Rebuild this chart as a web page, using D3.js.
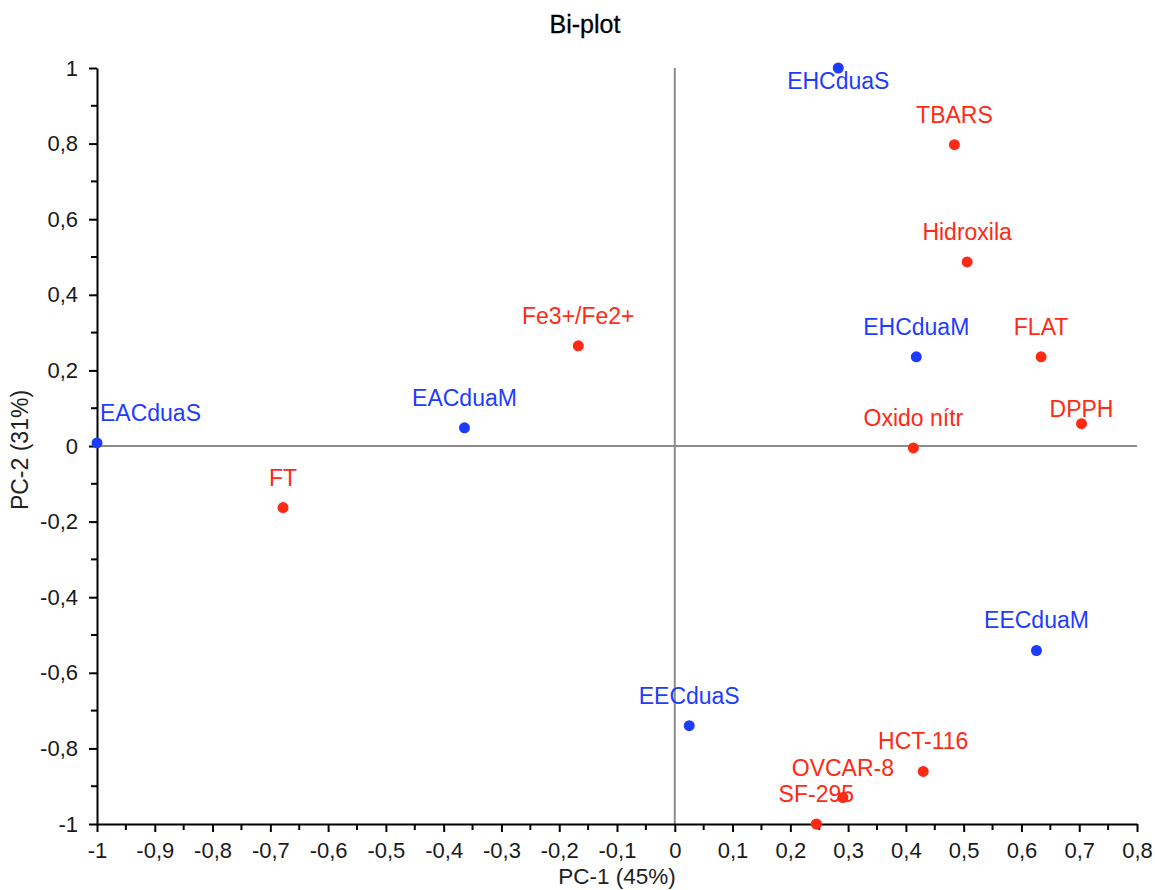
<!DOCTYPE html>
<html>
<head>
<meta charset="utf-8">
<script src="https://cdn.jsdelivr.net/npm/d3@7"></script>
<style>
  html, body { margin: 0; padding: 0; background: #fff; }
  text { font-family: "Liberation Sans", Arial, sans-serif; }
</style>
</head>
<body>
<svg id="chart" width="1155" height="890"></svg>
<script>
// ---- data ----
const names = ["EHCduaS","TBARS","Hidroxila","EHCduaM","FLAT","DPPH","Oxido nítr","Fe3+/Fe2+","EACduaM","EACduaS","FT","EECduaM","EECduaS","HCT-116","OVCAR-8","SF-295"];
const pc1 =   [0.283, 0.484, 0.506, 0.418, 0.634, 0.704, 0.413, -0.167, -0.364, -1.0, -0.678, 0.626, 0.025, 0.430, 0.291, 0.245];
const pc2 =   [1.0,   0.797, 0.487, 0.236, 0.236, 0.059, -0.005, 0.265, 0.048, 0.008, -0.163, -0.541, -0.740, -0.861, -0.930, -1.0];
const groups = ["obs","var","var","obs","var","var","var","var","obs","obs","var","obs","obs","var","var","var"];
const xTicks = [-1,-0.9,-0.8,-0.7,-0.6,-0.5,-0.4,-0.3,-0.2,-0.1,0,0.1,0.2,0.3,0.4,0.5,0.6,0.7,0.8];
const yTicks = [-1,-0.8,-0.6,-0.4,-0.2,0,0.2,0.4,0.6,0.8,1];
const title = "Bi-plot";
const xTitle = "PC-1 (45%)";
const yTitle = "PC-2 (31%)";
// label placement (style only)
const labelBelow = ["EHCduaS"];
const labelRight = ["EACduaS"];
const labelClose = ["DPPH"];

const colors = { obs: "#1e3cff", var: "#ff2a14" };
const fmt = v => String(+v.toFixed(2)).replace(".", ",");

const svg = d3.select("#chart");
const mL = 97, mR = 1137, mT = 68, mB = 824;

const x = d3.scaleLinear().domain([-1, 0.8]).range([mL, mR]);
const y = d3.scaleLinear().domain([-1, 1]).range([mB, mT]);

// zero lines
svg.append("line").attr("x1", x(0)).attr("x2", x(0)).attr("y1", mT).attr("y2", mB)
  .attr("stroke", "#8c8c8c").attr("stroke-width", 2);
svg.append("line").attr("x1", mL).attr("x2", mR).attr("y1", y(0)).attr("y2", y(0))
  .attr("stroke", "#8c8c8c").attr("stroke-width", 2);

// minor ticks
const xMinor = d3.range(-0.95, 0.8, 0.1);
const yMinor = d3.range(-0.9, 1.0, 0.2);

const xAxis = svg.append("g").attr("transform", `translate(0,${mB})`)
  .call(d3.axisBottom(x).tickValues(xTicks).tickFormat(fmt).tickSize(8).tickSizeOuter(0).tickPadding(10));
xAxis.append("g").selectAll("line").data(xMinor).join("line")
  .attr("x1", d => x(d)).attr("x2", d => x(d)).attr("y1", 0).attr("y2", 6)
  .attr("stroke", "#000").attr("stroke-width", 2);

const yAxis = svg.append("g").attr("transform", `translate(${mL},0)`)
  .call(d3.axisLeft(y).tickValues(yTicks).tickFormat(fmt).tickSize(8).tickSizeOuter(0).tickPadding(11));
yAxis.append("g").selectAll("line").data(yMinor).join("line")
  .attr("x1", 0).attr("x2", -6).attr("y1", d => y(d)).attr("y2", d => y(d))
  .attr("stroke", "#000").attr("stroke-width", 2);

[xAxis, yAxis].forEach(g => {
  g.select(".domain").attr("stroke", "#000").attr("stroke-width", 2);
  g.selectAll(".tick line").attr("stroke", "#000").attr("stroke-width", 2);
  g.selectAll(".tick text").attr("font-size", 22).attr("fill", "#1a1a1a")
    .style("font-family", '"Liberation Sans", Arial, sans-serif');
});

// titles
svg.append("text").attr("x", 585).attr("y", 33).attr("text-anchor", "middle")
  .attr("font-size", 25).attr("fill", "#000").attr("stroke", "#000").attr("stroke-width", 0.3).text(title);
svg.append("text").attr("x", 617).attr("y", 884).attr("text-anchor", "middle")
  .attr("font-size", 22.5).attr("fill", "#222").text(xTitle);
svg.append("text").attr("transform", `translate(28,${y(0) + 4}) rotate(-90)`).attr("text-anchor", "middle")
  .attr("font-size", 23).attr("fill", "#222").text(yTitle);

// points
const data = names.map((n, i) => ({ name: n, x: pc1[i], y: pc2[i], g: groups[i] }));

svg.append("g").selectAll("circle").data(data).join("circle")
  .attr("cx", d => x(d.x)).attr("cy", d => y(d.y)).attr("r", 5.5)
  .attr("fill", d => colors[d.g]);

svg.append("g").selectAll("text").data(data).join("text")
  .attr("x", d => labelRight.includes(d.name) ? x(d.x) + 3 : x(d.x))
  .attr("y", d => labelBelow.includes(d.name) ? y(d.y) + 21
                 : labelClose.includes(d.name) ? y(d.y) - 7 : y(d.y) - 22)
  .attr("text-anchor", d => labelRight.includes(d.name) ? "start" : "middle")
  .attr("font-size", 23)
  .attr("fill", d => colors[d.g])
  .text(d => d.name);
</script>
</body>
</html>
